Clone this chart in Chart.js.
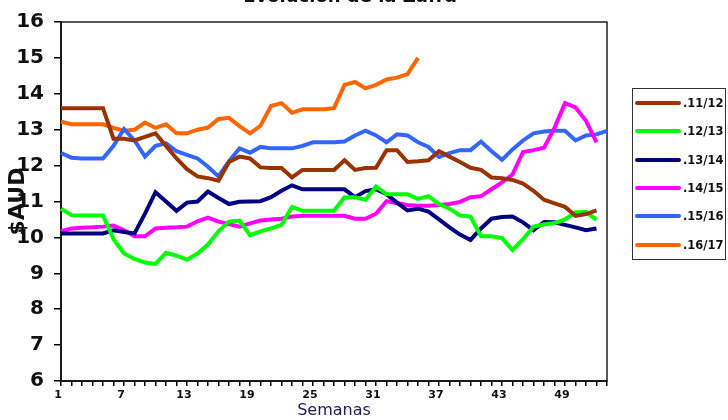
<!DOCTYPE html>
<html>
<head>
<meta charset="utf-8">
<script src="https://cdn.jsdelivr.net/npm/chart.js@4.4.1/dist/chart.umd.min.js"></script>
<style>
  html, body { margin: 0; padding: 0; background: #fff; }
  #wrap { position: relative; width: 728px; height: 420px; overflow: hidden; }
  #titulo {
    position: absolute; left: 0; width: 700px; top: -13px; text-align: center;
    font: bold 18px "DejaVu Sans", sans-serif; color: #111; line-height: 18px;
  }
  #leyenda {
    position: absolute; left: 632px; top: 88px; width: 94px; height: 172px;
    border: 1px solid #333; box-sizing: border-box;
  }
  .item { height: 28.3px; display: flex; align-items: center; }
  .item span.linea { display: inline-block; width: 46px; height: 4px; margin-left: 2px; border-radius: 2px; }
  .item span.txt { margin-left: 2px; font: bold 11.5px "DejaVu Sans", sans-serif; color: #111; }
</style>
</head>
<body>
<div id="wrap">
  <canvas id="grafico" width="728" height="420"></canvas>
  <div id="titulo">Evolución de la Zafra</div>
  <div id="leyenda"></div>
</div>
<script>
const semanas = ["1","2","3","4","5","6","7","8","9","10","11","12","13","14","15","16","17","18","19","20",
  "21","22","23","24","25","26","27","28","29","30","31","32","33","34","35","36","37","38","39","40",
  "41","42","43","44","45","46","47","48","49","50","51","52","53"];

const zafra1112 = [13.6,13.6,13.6,13.6,13.6, 12.75,12.75,12.7,12.8,12.9, 12.55,12.2,11.9,11.7,11.65,
  11.58,12.1,12.25,12.2,11.95, 11.93,11.93,11.67,11.88,11.88, 11.88,11.88,12.15,11.88,11.93,
  11.94,12.43,12.43,12.1,12.12, 12.15,12.4,12.25,12.1,11.94, 11.88,11.67,11.65,11.6,11.5,
  11.3,11.05,10.95,10.85,10.6, 10.65,10.75];
const zafra1213 = [10.8,10.62,10.61,10.61,10.61, 9.95,9.55,9.4,9.3,9.26, 9.57,9.49,9.38,9.55,9.8,
  10.17,10.44,10.47,10.06,10.17, 10.25,10.35,10.85,10.74,10.74, 10.74,10.74,11.12,11.12,11.05,
  11.42,11.2,11.2,11.2,11.07, 11.15,10.93,10.8,10.61,10.58, 10.03,10.03,9.98,9.65,9.95,
  10.3,10.36,10.4,10.5,10.7, 10.71,10.49];
const zafra1314 = [10.11,10.11,10.11,10.11,10.11, 10.2,10.15,10.11,10.66,11.26, 11.0,10.74,10.97,11.0,11.28,
  11.1,10.93,10.99,11.0,11.01, 11.12,11.3,11.45,11.34,11.34, 11.34,11.34,11.34,11.12,11.29,
  11.34,11.2,10.97,10.75,10.8, 10.72,10.5,10.28,10.08,9.93, 10.25,10.52,10.57,10.58,10.42,
  10.2,10.43,10.42,10.35,10.28, 10.2,10.25];
const zafra1415 = [10.17,10.25,10.27,10.28,10.3, 10.33,10.2,10.03,10.03,10.25, 10.27,10.28,10.3,10.45,10.55,
  10.44,10.37,10.3,10.39,10.47, 10.5,10.52,10.58,10.6,10.6, 10.6,10.6,10.6,10.52,10.52,
  10.66,11.01,10.95,10.9,10.88, 10.88,10.9,10.93,10.99,11.12, 11.15,11.34,11.53,11.75,12.38,
  12.43,12.5,13.05,13.74,13.62, 13.25,12.65];
const zafra1516 = [12.35,12.22,12.2,12.2,12.2, 12.55,13.02,12.7,12.25,12.55, 12.62,12.4,12.3,12.2,11.97,
  11.7,12.12,12.48,12.36,12.52, 12.48,12.48,12.48,12.55,12.65, 12.65,12.65,12.67,12.84,12.97,
  12.84,12.65,12.87,12.84,12.65, 12.52,12.24,12.35,12.43,12.43, 12.67,12.4,12.16,12.45,12.7,
  12.9,12.95,12.97,12.97,12.7, 12.84,12.87,12.97];
const zafra1617 = [13.22,13.15,13.15,13.15,13.15, 13.05,12.97,13.0,13.2,13.05, 13.15,12.9,12.9,13.0,13.06,
  13.3,13.33,13.1,12.9,13.11, 13.66,13.74,13.47,13.57,13.57, 13.57,13.6,14.25,14.33,14.15,
  14.25,14.4,14.45,14.55,15.0];

const nombres = [".11/12", ".12/13", ".13/14", ".14/15", ".15/16", ".16/17"];
const colores = ["#993300", "#00ff00", "#000080", "#ff00ff", "#3366ff", "#ff6600"];
const series = [zafra1112, zafra1213, zafra1314, zafra1415, zafra1516, zafra1617];

const marco = {
  id: "marco",
  beforeDatasetsDraw(chart) {
    const {ctx, chartArea: a} = chart;
    ctx.save();
    ctx.strokeStyle = "#222";
    ctx.lineWidth = 1.5;
    ctx.strokeRect(a.left, a.top, a.right - a.left, a.bottom - a.top);
    ctx.restore();
  }
};

const ctx = document.getElementById("grafico").getContext("2d");

const grafico = new Chart(ctx, {
  type: "line",
  data: {
    labels: semanas,
    datasets: series.map((s, i) => ({
      label: nombres[i],
      data: s,
      borderColor: colores[i],
      backgroundColor: colores[i],
      borderWidth: 4,
      pointRadius: 0,
      tension: 0,
      fill: false
    }))
  },
  options: {
    responsive: false,
    animation: false,
    layout: { padding: { left: 0, top: 14, right: 121, bottom: 0 } },
    plugins: {
      legend: { display: false },
      tooltip: { enabled: false }
    },
    scales: {
      x: {
        offset: false,
        afterFit: s => { s.height = 39; },
        border: { display: true, color: "#000", width: 2 },
        grid: { display: true, drawOnChartArea: false, tickLength: 5, color: "#000", lineWidth: 1.5 },
        ticks: {
          autoSkip: false,
          maxRotation: 0,
          padding: 3,
          labelOffset: -3,
          color: "#111",
          font: { family: "DejaVu Sans", size: 11, weight: "bold" },
          callback: function (v, i) { return i % 6 === 0 ? this.getLabelForValue(v) : ""; }
        },
        title: {
          display: true,
          text: "Semanas",
          color: "#1c1c50",
          padding: 0,
          font: { family: "DejaVu Sans", size: 16 }
        }
      },
      y: {
        min: 6,
        max: 16,
        afterFit: s => { s.width = 61; },
        border: { display: true, color: "#000", width: 2 },
        grid: { display: true, drawOnChartArea: false, tickLength: 7, color: "#000", lineWidth: 1.5 },
        ticks: {
          stepSize: 1,
          padding: 10,
          color: "#111",
          font: { family: "DejaVu Sans", size: 20, weight: "bold" }
        },
        title: {
          display: true,
          text: "$AUD",
          color: "#111",
          padding: { top: 5, bottom: 0 },
          font: { family: "DejaVu Sans", size: 22, weight: "bold" }
        }
      }
    }
  },
  plugins: [marco]
});

// leyenda en html a partir de los datasets
const leyenda = document.getElementById("leyenda");
grafico.data.datasets.forEach(ds => {
  const item = document.createElement("div");
  item.className = "item";
  item.innerHTML = `<span class="linea" style="background:${ds.borderColor}"></span><span class="txt">${ds.label}</span>`;
  leyenda.appendChild(item);
});
</script>
</body>
</html>
